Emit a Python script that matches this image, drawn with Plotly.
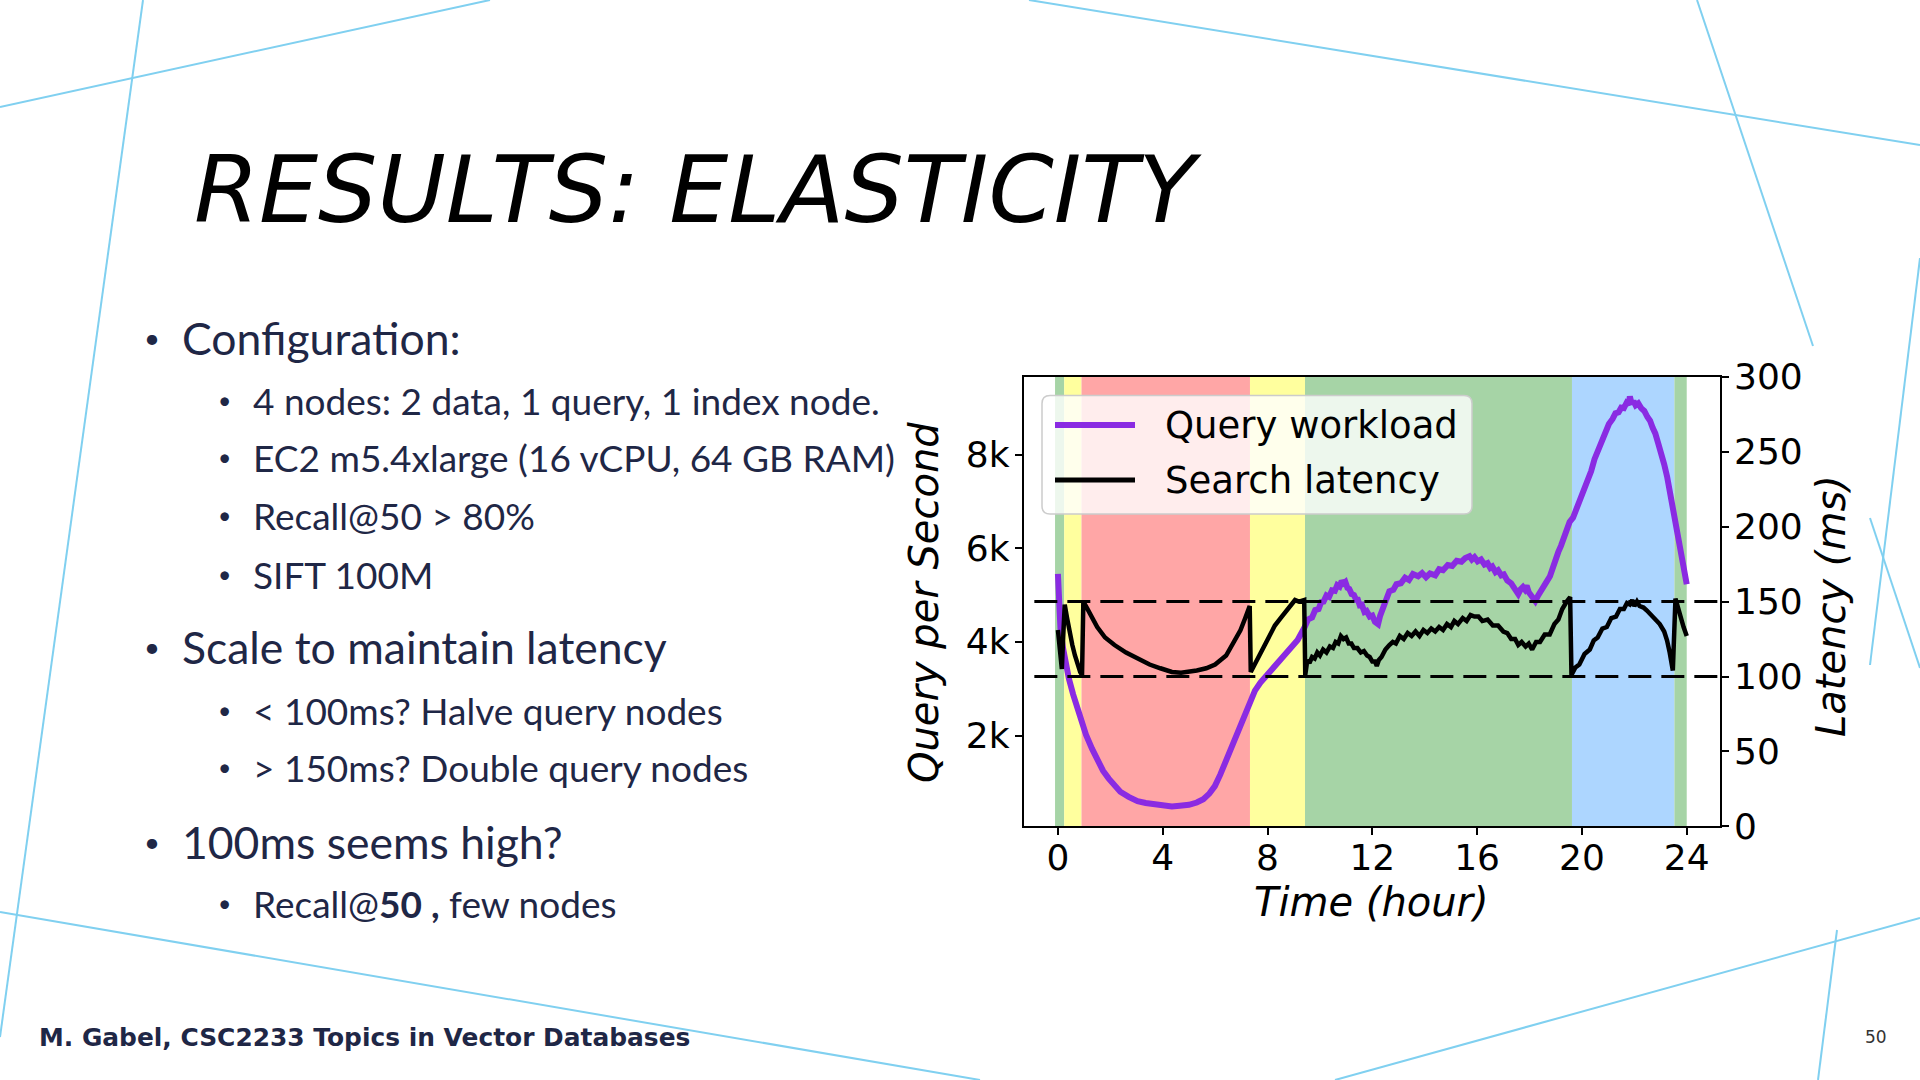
import plotly.graph_objects as go

W, H = 1920, 1080

# ---------------- data ----------------
qps_hours = [0.00, 0.04, 0.10, 0.20, 0.30, 0.42, 0.58, 0.74, 0.90, 1.07, 1.30, 1.51, 1.72, 1.94, 2.15, 2.38,
             2.70, 3.04, 3.35, 3.69, 4.00, 4.35, 4.65, 5.00, 5.30, 5.55, 5.78, 5.99, 6.20, 6.42, 6.64, 6.86,
             7.10, 7.32, 7.52, 7.73, 8.00, 8.28, 8.55, 8.83, 9.15,
             9.42, 9.55, 9.70, 9.82, 9.95, 10.05, 10.14, 10.25, 10.35, 10.46, 10.57, 10.66, 10.75, 10.83,
             10.90, 10.97, 11.05, 11.12, 11.21, 11.30, 11.38, 11.45, 11.52, 11.60, 11.70, 11.78, 11.90,
             12.00, 12.10, 12.22, 12.30, 12.38, 12.46, 12.54, 12.65, 12.80, 12.92, 13.09, 13.25, 13.40,
             13.55, 13.75, 13.90, 14.05, 14.20, 14.40, 14.55, 14.70, 14.88, 15.05, 15.22, 15.40, 15.55,
             15.71, 15.80, 15.90, 16.02, 16.15, 16.28, 16.40, 16.50, 16.58, 16.70, 16.80, 16.92, 17.02,
             17.15, 17.30, 17.45, 17.57, 17.66, 17.75, 17.82, 17.89, 17.97, 18.05, 18.13, 18.22, 18.33,
             18.45, 18.55, 18.66, 18.78, 18.90, 19.00, 19.10, 19.20, 19.32, 19.42, 19.53, 19.66, 19.80,
             19.94, 20.08, 20.20, 20.35, 20.48, 20.62, 20.76, 20.90, 21.03, 21.17, 21.28, 21.40, 21.50,
             21.60, 21.70, 21.78, 21.83, 21.90, 21.97, 22.05, 22.15, 22.26, 22.38, 22.50, 22.60, 22.70,
             22.80, 22.92, 23.03, 23.14, 23.25, 23.35, 23.46, 23.57, 23.68, 23.80, 23.90, 24.00]
qps_values = [5450, 4650, 4250, 3850, 3500, 3210, 2880, 2580, 2290, 2020, 1720, 1470, 1250, 1080, 930, 800,
              690, 600, 560, 525, 500, 485, 500, 520, 570, 640, 760, 920, 1170, 1470, 1790, 2100,
              2430, 2740, 2960, 3130, 3300, 3450, 3640, 3840, 4040,
              4320, 4480, 4520, 4680, 4700, 4850, 4860, 4990, 4960, 5100, 5090, 5210, 5180, 5300,
              5250, 5280, 5150, 5130, 5020, 5000, 4900, 4900, 4780, 4790, 4640, 4660, 4540,
              4560, 4430, 4380, 4560, 4690, 4850, 4930, 5080, 5110, 5230, 5250, 5370, 5320,
              5450, 5400, 5470, 5380, 5460, 5420, 5550, 5530, 5640, 5620, 5730, 5710, 5790,
              5830, 5760, 5810, 5720, 5760, 5650, 5680, 5580, 5610, 5490, 5530, 5420, 5440,
              5310, 5250, 5100, 5020, 5120, 5170, 5120, 5200, 5060, 5000, 4900, 4870, 4990,
              5080, 5160, 5290, 5400, 5620, 5730, 5920, 6050, 6240, 6360, 6560, 6650, 6860,
              6980, 7190, 7420, 7640, 7900, 8100, 8330, 8460, 8650, 8760, 8880, 8900, 9000,
              8990, 9100, 9060, 9240, 9080, 9140, 9050, 9090, 8990, 8930, 8800, 8720, 8570,
              8450, 8220, 8030, 7790, 7530, 7240, 6930, 6600, 6250, 5910, 5580, 5230]

lat_hours = [0.00, 0.05, 0.10, 0.15, 0.20, 0.26, 0.35, 0.45, 0.55, 0.65, 0.75, 0.85, 0.92, 0.97, 1.10, 1.29,
             1.50, 1.80, 2.16, 2.60, 3.04, 3.50, 3.91, 4.35, 4.70, 5.00, 5.30, 5.66, 6.00, 6.42, 6.70, 6.97,
             7.15, 7.32, 7.36, 7.60, 7.84, 8.05, 8.28, 8.50, 8.72, 9.05, 9.20, 9.40,
             9.44, 9.52, 9.60, 9.70, 9.80, 9.90, 10.00, 10.12, 10.25, 10.38, 10.50, 10.60, 10.70, 10.80,
             10.90, 11.00, 11.10, 11.20, 11.30, 11.43, 11.56, 11.68, 11.80, 11.90, 12.00, 12.10, 12.17,
             12.25, 12.35, 12.50, 12.65, 12.78, 12.90, 13.05, 13.20, 13.35, 13.50, 13.65, 13.80, 13.95,
             14.10, 14.25, 14.40, 14.55, 14.70, 14.85, 15.00, 15.13, 15.27, 15.45, 15.60, 15.75, 15.90,
             16.05, 16.20, 16.40, 16.60, 16.80, 17.00, 17.15, 17.30, 17.45, 17.57, 17.70, 17.85, 17.97,
             18.10, 18.25, 18.40, 18.58, 18.77, 18.95, 19.10, 19.25, 19.42, 19.55, 19.60, 19.75, 19.90,
             20.10, 20.30, 20.45, 20.60, 20.78, 20.95, 21.12, 21.30, 21.45, 21.60, 21.72, 21.83, 21.92,
             22.00, 22.10, 22.20, 22.35, 22.48, 22.65, 22.80, 22.97, 23.14, 23.25, 23.35, 23.42, 23.47,
             23.57, 23.66, 23.75, 23.88, 24.00]
lat_values = [131, 119, 109, 105, 126, 148, 139, 129, 121, 114, 108, 103, 101, 150, 146, 139,
              133, 126, 121, 116, 112, 108, 105.5, 103, 102.5, 103, 104, 105.5, 108, 114, 122, 131,
              139, 147, 103, 111, 119, 126, 134, 139, 144, 151, 150, 151,
              101, 111, 109, 113, 112, 116, 114, 118, 116, 120, 119, 123, 122, 127,
              125, 126, 122, 122, 119, 119, 116, 117, 114, 113, 110, 110, 107,
              111, 113, 118, 121, 123, 122, 127, 125, 129, 127, 130, 127, 131,
              129, 132, 130, 133, 131, 135, 133, 137, 135, 139, 137, 141, 140,
              140, 137, 138, 134, 134, 130, 129, 125, 125, 121, 123, 120, 122,
              118, 123, 123, 128, 128, 135, 138, 145, 150, 153, 101, 106, 108,
              115, 118, 124, 126, 132, 133, 139, 140, 145, 145, 149, 148, 151,
              147, 150, 147, 146, 144, 141, 138, 135, 130, 124, 116, 110, 104,
              152, 146, 141, 133, 127]

latency_thresholds = [100, 150]

band_edges = [-0.11, 0.24, 0.90, 7.33, 9.43, 19.62, 23.53, 24.0]
band_colors = ["#A6D4A6", "#FFFF9E", "#FFA6A6", "#FFFF9E", "#A6D4A6", "#ADD6FF", "#A6D4A6"]

x_ticks = [0, 4, 8, 12, 16, 20, 24]
qps_ticks = [2000, 4000, 6000, 8000]
qps_tick_labels = ["2k", "4k", "6k", "8k"]
lat_ticks = [0, 50, 100, 150, 200, 250, 300]

series_names = ["Query workload", "Search latency"]
series_colors = ["#8A2BE2", "#000000"]

title_text = "RESULTS: ELASTICITY"
bullets = [
    (1, "Configuration:"),
    (2, "4 nodes: 2 data, 1 query, 1 index node."),
    (2, "EC2 m5.4xlarge (16 vCPU, 64 GB RAM)"),
    (2, "Recall@50 &gt; 80%"),
    (2, "SIFT 100M"),
    (1, "Scale to maintain latency"),
    (2, "&lt; 100ms? Halve query nodes"),
    (2, "&gt; 150ms? Double query nodes"),
    (1, "100ms seems high?"),
    (2, "Recall@<b>50 ,</b> few nodes"),
]
bullet_y = [338, 400, 457, 515, 574, 646, 710, 767, 841, 903]
footer_text = "M. Gabel, CSC2233 Topics in Vector Databases"
page_number = "50"

# ---------------- helpers ----------------
def px(x):
    return x / W

def py(y):
    return 1 - y / H

TEXT = "#1F2746"
CHART_FONT = "DejaVu Sans"
BODY_FONT = "Lato"

# plot area in pixels
PL, PR, PT, PB = 1023.6, 1720.0, 376.7, 826.4

fig = go.Figure()

fig.add_trace(go.Scatter(x=qps_hours, y=qps_values, mode="lines", name=series_names[0],
                         line=dict(color=series_colors[0], width=6), yaxis="y", showlegend=False))
fig.add_trace(go.Scatter(x=lat_hours, y=lat_values, mode="lines", name=series_names[1],
                         line=dict(color=series_colors[1], width=4.5), yaxis="y2", showlegend=False))
for t in latency_thresholds:
    fig.add_trace(go.Scatter(x=[-0.9, 25.27], y=[t, t], mode="lines", yaxis="y2", showlegend=False,
                             line=dict(color="black", width=3, dash="23px,10px"), hoverinfo="skip"))

shapes = []
# background bands
for i, c in enumerate(band_colors):
    shapes.append(dict(type="rect", xref="x", yref="y domain", x0=band_edges[i], x1=band_edges[i + 1],
                       y0=0, y1=1, fillcolor=c, line=dict(width=0), layer="below"))

# legend box (rounded)
lx0, ly0, lx1, ly1, r = 1042, 395.5, 1472, 514, 8
path = (f"M {px(lx0 + r)},{py(ly0)} L {px(lx1 - r)},{py(ly0)} Q {px(lx1)},{py(ly0)} {px(lx1)},{py(ly0 + r)} "
        f"L {px(lx1)},{py(ly1 - r)} Q {px(lx1)},{py(ly1)} {px(lx1 - r)},{py(ly1)} "
        f"L {px(lx0 + r)},{py(ly1)} Q {px(lx0)},{py(ly1)} {px(lx0)},{py(ly1 - r)} "
        f"L {px(lx0)},{py(ly0 + r)} Q {px(lx0)},{py(ly0)} {px(lx0 + r)},{py(ly0)} Z")
shapes.append(dict(type="path", xref="paper", yref="paper", path=path,
                   fillcolor="rgba(255,255,255,0.8)", line=dict(color="#CCCCCC", width=1.5), layer="above"))
legend_rows = [425, 480]
for i, yy in enumerate(legend_rows):
    shapes.append(dict(type="line", xref="paper", yref="paper", x0=px(1055), x1=px(1135), y0=py(yy), y1=py(yy),
                       line=dict(color=series_colors[i], width=6 if i == 0 else 5), layer="above"))

# decorative slide lines
deco = [((0, 107), (490, 0)), ((143, 0), (0, 1037)), ((0, 912), (980, 1080)),
        ((1029, 0), (1920, 145)), ((1697, 0), (1813, 346)), ((1920, 258), (1870, 665)),
        ((1870, 518), (1920, 668)), ((1335, 1080), (1920, 918)), ((1837, 930), (1818, 1080))]
for (a, b) in deco:
    shapes.append(dict(type="line", xref="paper", yref="paper", x0=px(a[0]), y0=py(a[1]), x1=px(b[0]), y1=py(b[1]),
                       line=dict(color="#80D0F0", width=2), layer="below"))

annotations = []
# legend text
for i, yy in enumerate(legend_rows):
    annotations.append(dict(xref="paper", yref="paper", x=px(1163), y=py(yy), xanchor="left", yanchor="middle",
                            text=series_names[i], showarrow=False,
                            font=dict(family=CHART_FONT, size=37, color="black")))
# axis titles
annotations.append(dict(xref="paper", yref="paper", x=px(1371), y=py(902), xanchor="center", yanchor="middle",
                        text="Time (hour)", showarrow=False,
                        font=dict(family=CHART_FONT, size=40, color="black", style="italic")))
annotations.append(dict(xref="paper", yref="paper", x=px(924), y=py(603), xanchor="center", yanchor="middle",
                        text="Query per Second", showarrow=False, textangle=-90,
                        font=dict(family=CHART_FONT, size=40, color="black", style="italic")))
annotations.append(dict(xref="paper", yref="paper", x=px(1831), y=py(606), xanchor="center", yanchor="middle",
                        text="Latency (ms)", showarrow=False, textangle=-90,
                        font=dict(family=CHART_FONT, size=40, color="black", style="italic")))
# title
annotations.append(dict(xref="paper", yref="paper", x=px(192), y=py(189), xanchor="left", yanchor="middle",
                        text=title_text, showarrow=False,
                        font=dict(family="DejaVu Sans", size=93.5, color="black", style="italic")))
# bullets
for (lvl, txt), yy in zip(bullets, bullet_y):
    size = 44.5 if lvl == 1 else 37
    bx = 152 if lvl == 1 else 224
    tx = 179.5 if lvl == 1 else 250.5
    annotations.append(dict(xref="paper", yref="paper", x=px(bx), y=py(yy), xanchor="center", yanchor="middle",
                            text="•", showarrow=False, font=dict(family=BODY_FONT, size=size * 0.62, color=TEXT)))
    annotations.append(dict(xref="paper", yref="paper", x=px(tx), y=py(yy), xanchor="left", yanchor="middle",
                            text=txt, showarrow=False, font=dict(family=BODY_FONT, size=size, color=TEXT)))
# footer
annotations.append(dict(xref="paper", yref="paper", x=px(37), y=py(1037), xanchor="left", yanchor="middle",
                        text=f"<b>{footer_text}</b>", showarrow=False,
                        font=dict(family="DejaVu Sans", size=24.9, color=TEXT)))
annotations.append(dict(xref="paper", yref="paper", x=px(1876), y=py(1037), xanchor="center", yanchor="middle",
                        text=page_number, showarrow=False,
                        font=dict(family="DejaVu Sans", size=17, color="#333333")))

axis_common = dict(showgrid=False, zeroline=False, showline=True, linecolor="black", linewidth=1.6,
                   ticks="outside", ticklen=7, tickwidth=1.5, tickcolor="black",
                   tickfont=dict(family=CHART_FONT, size=36, color="black"))

fig.update_layout(
    autosize=True, margin=dict(l=0, r=0, t=0, b=0, autoexpand=False),
    paper_bgcolor="white", plot_bgcolor="white", showlegend=False,
    xaxis=dict(domain=[px(PL), px(PR)], range=[-1.31, 25.27], tickvals=x_ticks, mirror=True,
               ticklabelstandoff=-8, **axis_common),
    yaxis=dict(domain=[py(PB), py(PT)], range=[60, 9661], tickvals=qps_ticks, ticktext=qps_tick_labels,
               ticklabelstandoff=-2, **axis_common),
    yaxis2=dict(overlaying="y", side="right", range=[0, 300], tickvals=lat_ticks,
                ticklabelstandoff=-2, **axis_common),
    shapes=shapes, annotations=annotations,
)

fig.write_html("out.html", default_width="100vw", default_height="100vh",
               config={"displayModeBar": False},
               post_script="document.body.style.margin='0';document.body.style.overflow='hidden';"
                           "document.documentElement.style.overflow='hidden';window.dispatchEvent(new Event('resize'));")
